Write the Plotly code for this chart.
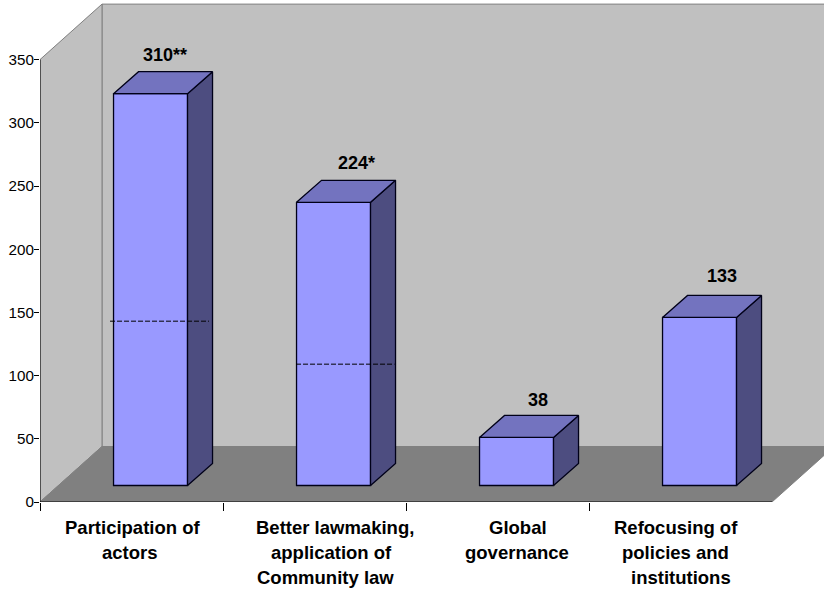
import plotly.graph_objects as go

# Survey counts by theme
category_lines = [["Participation of", "actors"],
                  ["Better lawmaking,", "application of", "Community law"],
                  ["Global", "governance"],
                  ["Refocusing of", "policies and", "institutions"]]
values = [310, 224, 38, 133]
value_labels = ["310**", "224*", "38", "133"]
dashed_levels = [130, 96]
y_ticks = [0, 50, 100, 150, 200, 250, 300, 350]

# Oblique projection, in axis units: one category spans 183 px, one value unit 1.264 px
PX_X = 183.0
PX_Y = 1.264
LEFT = 40
wall_dx, wall_dy = 62 / PX_X, 55.5 / PX_Y
bar_dx, bar_dy = 25 / PX_X, 22 / PX_Y
bar_base = 16.5 / PX_Y
bar_width = 74 / PX_X
bar_x = [i + 0.604 for i in range(len(values))]
n = len(values)
y_top = y_ticks[-1]

WALL, FLOOR = "#C0C0C0", "#808080"
FRONT, TOP, SIDE = "#9999FF", "#7373BF", "#4D4D80"
EDGE = "#000018"
FONT = "Liberation Sans, Arial, sans-serif"
VALUE_SIZE = 18
CAPTION_SIZE = 18.5
LINE_STEP = 25


def path(points):
    return "M " + " L ".join(f"{x},{y}" for x, y in points) + " Z"


def wall_shape(points, fill):
    return dict(type="path", path=path(points), xref="x", yref="y", layer="below",
                fillcolor=fill, line=dict(color="#808080", width=1))


shapes = [
    wall_shape([(wall_dx, wall_dy), (n + wall_dx, wall_dy),
                (n + wall_dx, y_top + wall_dy), (wall_dx, y_top + wall_dy)], WALL),
    wall_shape([(0, 0), (wall_dx, wall_dy), (wall_dx, y_top + wall_dy), (0, y_top)], WALL),
    wall_shape([(0, 0), (n, 0), (n + wall_dx, wall_dy), (wall_dx, wall_dy)], FLOOR),
]

fig = go.Figure()

fig.add_trace(go.Bar(x=bar_x, y=values, base=bar_base, width=bar_width,
                     marker=dict(color=FRONT, line=dict(color=EDGE, width=1.3)),
                     hoverinfo="skip", showlegend=False))


def face(xs, ys, fill):
    fig.add_trace(go.Scatter(x=xs, y=ys, mode="lines", fill="toself", fillcolor=fill,
                             line=dict(color=EDGE, width=1.3),
                             hoverinfo="skip", showlegend=False))


for cx, v in zip(bar_x, values):
    xl, xr = cx - bar_width / 2, cx + bar_width / 2
    y0, y1 = bar_base, bar_base + v
    face([xr, xr + bar_dx, xr + bar_dx, xr, xr],
         [y0, y0 + bar_dy, y1 + bar_dy, y1, y0], SIDE)
    face([xl, xl + bar_dx, xr + bar_dx, xr, xl],
         [y1, y1 + bar_dy, y1 + bar_dy, y1, y1], TOP)

# Dashed reference levels across the first two columns
dash_overhang = [(-3.5, -3.5), (-0.5, -1)]
for cx, level, (left, right) in zip(bar_x, dashed_levels, dash_overhang):
    xl, xr = cx - bar_width / 2, cx + bar_width / 2
    y = bar_base + level
    fig.add_trace(go.Scatter(x=[xl + left / PX_X, xr + bar_dx + right / PX_X], y=[y, y],
                             mode="lines",
                             line=dict(color="#000000", width=1, dash="5px,2px"),
                             hoverinfo="skip", showlegend=False))

# Axis lines stop at the last tick and the last category
fig.add_trace(go.Scatter(x=[0, 0], y=[0, y_top], mode="lines", cliponaxis=False,
                         line=dict(color="#000000", width=1),
                         hoverinfo="skip", showlegend=False))
fig.add_trace(go.Scatter(x=[0, n], y=[0, 0], mode="lines", cliponaxis=False,
                         line=dict(color="#000000", width=1),
                         hoverinfo="skip", showlegend=False))

annotations = []
label_shift_x = [14.5, 23, 21, 22]
label_shift_y = [17, 17, 15, 19.5]
for cx, v, text, sx, sy in zip(bar_x, values, value_labels, label_shift_x, label_shift_y):
    annotations.append(dict(x=cx, y=bar_base + v + bar_dy, text=f"<b>{text}</b>", showarrow=False,
                            xanchor="center", yanchor="middle", xshift=sx, yshift=sy,
                            font=dict(family=FONT, size=VALUE_SIZE, color="#000000")))

# Category captions: each line is placed on its own, with a fixed line pitch
caption_centers_px = [[132.8, 130], [335, 331.7, 325.3], [517.7, 516.5], [675.6, 675, 681]]
for lines, centers in zip(category_lines, caption_centers_px):
    for row, (line, px) in enumerate(zip(lines, centers)):
        annotations.append(dict(x=(px - LEFT) / PX_X, y=0, text=f"<b>{line}</b>", showarrow=False,
                                xanchor="center", yanchor="middle",
                                yshift=-25.5 - row * LINE_STEP,
                                font=dict(family=FONT, size=CAPTION_SIZE, color="#000000")))

fig.update_layout(
    width=824, height=591,
    margin=dict(l=LEFT, r=0, t=0, b=89),
    paper_bgcolor="#FFFFFF", plot_bgcolor="#FFFFFF",
    showlegend=False, shapes=shapes, annotations=annotations,
    xaxis=dict(range=[0, 784 / PX_X], tickmode="array", tickvals=[0, 1, 2, 3],
               ticks="outside", ticklen=8, tickcolor="#000000", tickwidth=1,
               showticklabels=False, showgrid=False, zeroline=False, showline=False),
    yaxis=dict(range=[0, 502 / PX_Y], tickmode="array", tickvals=y_ticks,
               ticks="outside", ticklen=5, tickcolor="#000000", tickwidth=1,
               tickfont=dict(family=FONT, size=15.2, color="#000000"),
               ticklabelstandoff=-3,
               showgrid=False, zeroline=False, showline=False),
)

fig.write_html("out.html", config=dict(displayModeBar=False))
